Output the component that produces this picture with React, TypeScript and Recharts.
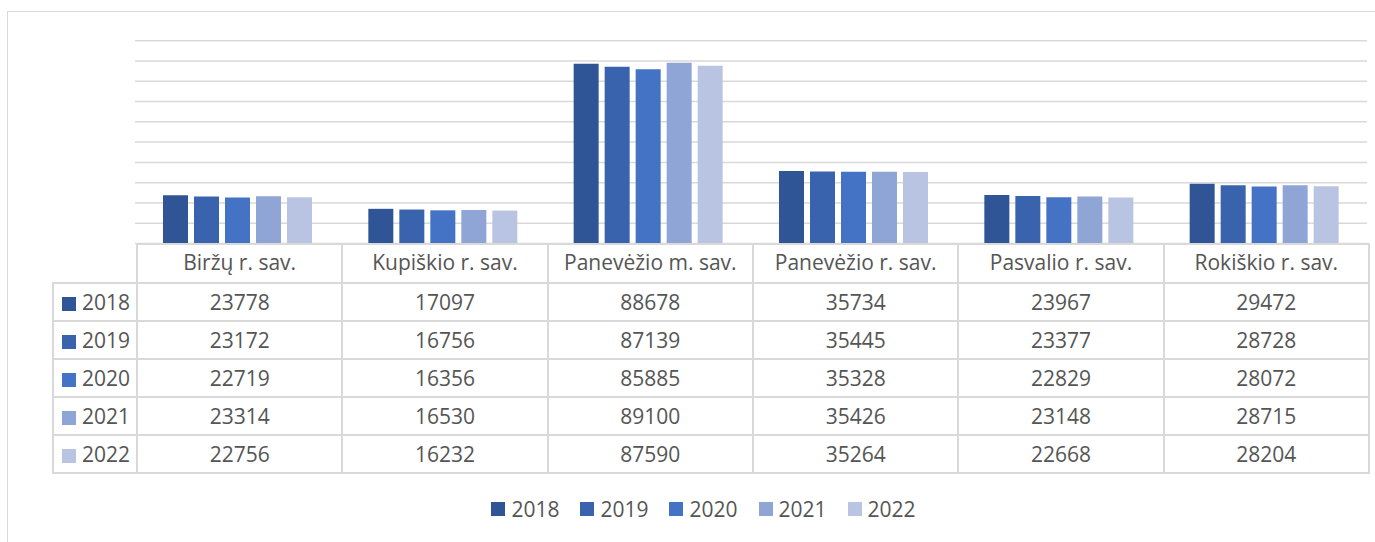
import { Bar, BarChart, CartesianGrid, Legend, XAxis, YAxis } from 'recharts';

const categories = [
  'Biržų r. sav.',
  'Kupiškio r. sav.',
  'Panevėžio m. sav.',
  'Panevėžio r. sav.',
  'Pasvalio r. sav.',
  'Rokiškio r. sav.',
];
const years = ['2018', '2019', '2020', '2021', '2022'];
const v2018 = [23778, 17097, 88678, 35734, 23967, 29472];
const v2019 = [23172, 16756, 87139, 35445, 23377, 28728];
const v2020 = [22719, 16356, 85885, 35328, 22829, 28072];
const v2021 = [23314, 16530, 89100, 35426, 23148, 28715];
const v2022 = [22756, 16232, 87590, 35264, 22668, 28204];
const yTicks = [0, 10000, 20000, 30000, 40000, 50000, 60000, 70000, 80000, 90000, 100000];

const series = [v2018, v2019, v2020, v2021, v2022];
const colors = ['#2F5597', '#3A63AD', '#4472C4', '#8FA5D6', '#B9C4E3'];

const data = categories.map((name, i) => {
  const row: Record<string, string | number> = { name };
  years.forEach((y, j) => {
    row[y] = series[j][i];
  });
  return row;
});

const FONT = '"Open Sans", sans-serif';
const TEXT = '#555555';
const LINE = '2px solid #D9D9D9';

function LegendContent({ payload }: any) {
  return (
    <div style={{ display: 'flex', justifyContent: 'center', fontFamily: FONT, fontSize: 21, color: TEXT }}>
      {(payload ?? []).map((p: any) => (
        <div key={p.value} style={{ display: 'flex', alignItems: 'center', marginRight: 21 }}>
          <span style={{ width: 14, height: 14, background: p.color, marginRight: 6, display: 'inline-block' }} />
          <span>{p.value}</span>
        </div>
      ))}
    </div>
  );
}

function DataTable() {
  const cell = { borderLeft: LINE, borderTop: LINE, textAlign: 'center' as const, padding: 0 };
  return (
    <table
      style={{
        position: 'absolute',
        left: 52,
        top: 243,
        width: 1316,
        borderCollapse: 'collapse',
        tableLayout: 'fixed',
        fontFamily: FONT,
        fontSize: 21,
        color: TEXT,
        borderRight: LINE,
        borderBottom: LINE,
      }}
    >
      <colgroup>
        <col style={{ width: 84 }} />
        {categories.map((c) => (
          <col key={c} style={{ width: 205.33 }} />
        ))}
      </colgroup>
      <tbody>
        <tr style={{ height: 39 }}>
          <td style={{ padding: 0 }} />
          {categories.map((c) => (
            <td key={c} style={{ ...cell, paddingBottom: 4 }}>
              {c}
            </td>
          ))}
        </tr>
        {years.map((y, j) => (
          <tr key={y} style={{ height: 38 }}>
            <td style={{ ...cell, textAlign: 'left', paddingLeft: 8, whiteSpace: 'nowrap' }}>
              <span
                style={{
                  display: 'inline-block',
                  width: 14,
                  height: 14,
                  background: colors[j],
                  marginRight: 6,
                  verticalAlign: '-1px',
                }}
              />
              {y}
            </td>
            {series[j].map((v, i) => (
              <td key={i} style={cell}>
                {v}
              </td>
            ))}
          </tr>
        ))}
      </tbody>
    </table>
  );
}

export default function App() {
  return (
    <div style={{ position: 'absolute', left: 0, top: 0, width: 1375, height: 542, overflow: 'hidden', background: '#fff' }}>
      <div style={{ position: 'absolute', left: 7, top: 11, width: 1400, height: 600, border: '1px solid #D9D9D9' }} />
      <div style={{ position: 'absolute', left: 0, top: 0 }}>
        <BarChart
          width={1375}
          height={542}
          data={data}
          margin={{ top: 40.7, right: 8, left: 135, bottom: 298.5 }}
          barSize={25}
          barGap={6}
        >
          <CartesianGrid horizontal vertical={false} stroke="#D9D9D9" strokeWidth={1.5} />
          <XAxis dataKey="name" hide />
          <YAxis hide domain={[0, 100000]} ticks={yTicks} interval={0} />
          <Legend
            verticalAlign="middle"
            align="center"
            content={<LegendContent />}
            wrapperStyle={{ top: 495, left: 57, width: 1314 }}
          />
          {years.map((y, j) => (
            <Bar key={y} dataKey={y} fill={colors[j]} isAnimationActive={false} />
          ))}
        </BarChart>
      </div>
      <DataTable />
    </div>
  );
}
